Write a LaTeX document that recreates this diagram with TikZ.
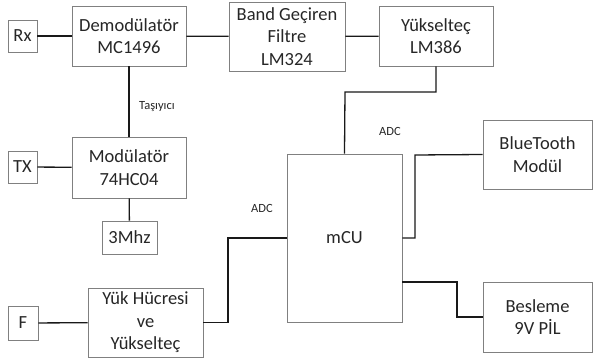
\documentclass[tikz,border=0pt]{standalone}
\usepackage{fontspec}
\setmainfont{Carlito}
\begin{document}
\begin{tikzpicture}[x=1pt,y=-1pt,
  blk/.style={draw=black!50, line width=0.9pt, fill=white, inner sep=0pt, align=center,
    text=black!85, font=\fontsize{18.5}{22.5}\selectfont},
  wire/.style={line width=1.3pt, black!90},
  lbl/.style={text=black!85, font=\fontsize{12.5}{14}\selectfont, inner sep=0pt}]
\useasboundingbox (0,0) rectangle (595,358);
\node[blk, minimum width=29pt, minimum height=32pt] (rx) at (22.5,36) {Rx};
\node[blk, minimum width=114pt, minimum height=60pt] (demod) at (129,36) {Demodülatör\\MC1496};
\node[blk, minimum width=116pt, minimum height=69pt] (band) at (287,36.5) {Band Geçiren\\Filtre\\LM324};
\node[blk, minimum width=114pt, minimum height=60pt] (amp) at (436,36) {Yükselteç\\LM386};
\node[blk, minimum width=114pt, minimum height=61pt] (mod) at (129,167.5) {Modülatör\\74HC04};
\node[blk, minimum width=29pt, minimum height=32pt] (tx) at (22.5,167) {TX};
\node[blk, minimum width=55pt, minimum height=33pt] (osc) at (129.5,237.5) {3Mhz};
\node[blk, minimum width=115pt, minimum height=69pt] (load) at (145.5,322.5) {Yük Hücresi\\ve\\Yükselteç};
\node[blk, minimum width=30pt, minimum height=34pt] (f) at (23,323) {F};
\node[blk, minimum width=115pt, minimum height=168pt] (mcu) at (344.5,238) {mCU};
\node[blk, minimum width=109pt, minimum height=69pt] (bt) at (537.5,154.5) {BlueTooth\\Modül};
\node[blk, minimum width=109pt, minimum height=70pt] (pwr) at (537.5,317) {Besleme\\9V PİL};

\coordinate (c1) at (436,92);
\coordinate (c2) at (345,92);
\coordinate (c3) at (415,155);
\coordinate (c4) at (415,238);
\coordinate (c5) at (402,282);
\coordinate (c6) at (457,282);
\coordinate (c7) at (457,317);
\coordinate (c8) at (228,322.5);
\coordinate (c9) at (228,238);

\draw[wire] (rx) -- (demod);
\draw[wire] (demod) -- (band);
\draw[wire] (band) -- (amp);
\draw[wire] (demod) -- (mod);
\draw[wire] (tx) -- (mod);
\draw[wire] (mod) -- (osc);
\draw[wire] (f) -- (load);
\draw[wire] (amp.south) -- (c1) -- (c2) -- (mcu.north);
\draw[wire] (bt.west) -- (c3) -- (c4) -- (mcu.east);
\draw[wire] (c5) -- (c6) -- (c7) -- (pwr.west);
\draw[wire] (load.east) -- (c8) -- (c9) -- (mcu.west);

\node[lbl] (tas) at (157,107) {Taşıyıcı};
\node[lbl] (adc1) at (390,131) {ADC};
\node[lbl] (adc2) at (262,208) {ADC};
\end{tikzpicture}
\end{document}
